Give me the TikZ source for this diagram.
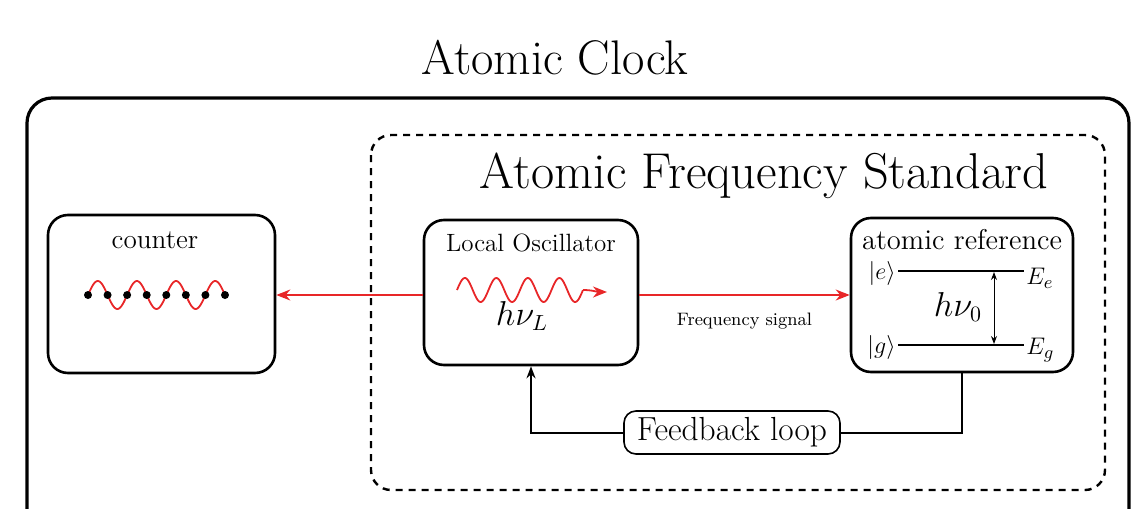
\documentclass[tikz,border=0pt]{standalone}
\usetikzlibrary{arrows.meta}
\definecolor{sigred}{RGB}{232,38,40}
\begin{document}
\begin{tikzpicture}[x=0.5pt,y=-0.5pt,
  box/.style={draw,line width=1.3pt,rounded corners=10pt,inner sep=0pt},
  sig/.style={sigred,line width=1pt,-{Stealth[length=7pt,width=5.5pt]}},
  level/.style={line width=1.2pt},
  lab/.style={inner sep=1pt,font=\fontsize{12.5}{15}\selectfont},
  fb/.style={line width=1pt}]
\useasboundingbox (0,0) rectangle (1131,509);

   \draw[line width=1.6pt,rounded corners=12.5pt] (27,98) rectangle (1129,545);
   \draw[line width=1.2pt,dash pattern=on 3.5pt off 3pt,rounded corners=10pt] (371,135) rectangle (1105,490);
   \node[font=\fontsize{24.3}{29}\selectfont] at (555,58) (Clock) {Atomic Clock};
   \node[font=\fontsize{25.2}{30}\selectfont] at (764,176) (AFS) {Atomic Frequency Standard};

   \node[box,minimum width=113.5pt,minimum height=79pt] at (161.5,294) (Counter) {};
   \node[box,minimum width=107pt,minimum height=72.5pt] at (531,292.5) (LO) {};
   \node[box,minimum width=111pt,minimum height=77pt] at (962,295) (Ref) {};

   \node[font=\fontsize{13.6}{16}\selectfont] at (155,240) {counter};
   \node[font=\fontsize{12.5}{15}\selectfont] at (531,243) {Local Oscillator};
   \node[font=\fontsize{14.3}{17}\selectfont] at (962,240) {atomic reference};

   \draw[sigred,line width=0.9pt,domain=0:3.5,samples=120] plot ({88+39.14*\x},{295-14*sin(360*\x)});
   \foreach \i in {0,...,7}
     \fill (88+19.57*\i,295) circle (2pt);

   \draw[sigred,line width=0.9pt,domain=0:4,samples=120] plot ({457+31.5*\x},{290-12*sin(360*\x)});
   \draw[sig,line width=0.9pt] (583,290) to[out=0,in=180] (607,292);
   \node[font=\fontsize{16}{19}\selectfont] at (522,316) (hL) {$h\nu_L$};

   \draw[sig] (LO.west |- 0,295) -- (Counter.east |- 0,295);
   \draw[sig] (LO.east |- 0,295) -- (Ref.west |- 0,295)
      node[midway,below=5pt,black,font=\fontsize{9}{11}\selectfont] {Frequency signal};

   \node[lab,anchor=east] at (898,273) (Ke) {$|e\rangle$};
   \node[lab,anchor=east] at (898,347) (Kg) {$|g\rangle$};
   \node[lab,anchor=west,font=\fontsize{13}{15}\selectfont] at (1024,278) (Ee) {$E_e$};
   \node[lab,anchor=west,font=\fontsize{13}{15}\selectfont] at (1024,350) (Eg) {$E_g$};
   \draw[level] (Ke.east |- 0,271) -- (Ee.west |- 0,271);
   \draw[level] (Kg.east |- 0,345) -- (Eg.west |- 0,345);
   \coordinate (Ae) at (994,272);
   \coordinate (Ag) at (994,344);
   \draw[line width=0.5pt,{Stealth[length=4pt,width=3pt]}-{Stealth[length=4pt,width=3pt]}] (Ae) -- (Ag);
   \node[font=\fontsize{16}{19}\selectfont] at (958,307) (h0) {$h\nu_0$};

   \node[draw,line width=0.8pt,rounded corners=6pt,minimum width=108pt,minimum height=20.5pt,font=\fontsize{16.7}{20}\selectfont] at (732,432.5) (FB) {Feedback loop};
   \draw[fb] (Ref.south) |- (FB.east);
   \draw[fb,-{Stealth[length=6pt,width=4.5pt]}] (FB.west) -| (LO.south);

    \end{tikzpicture}
\end{document}
